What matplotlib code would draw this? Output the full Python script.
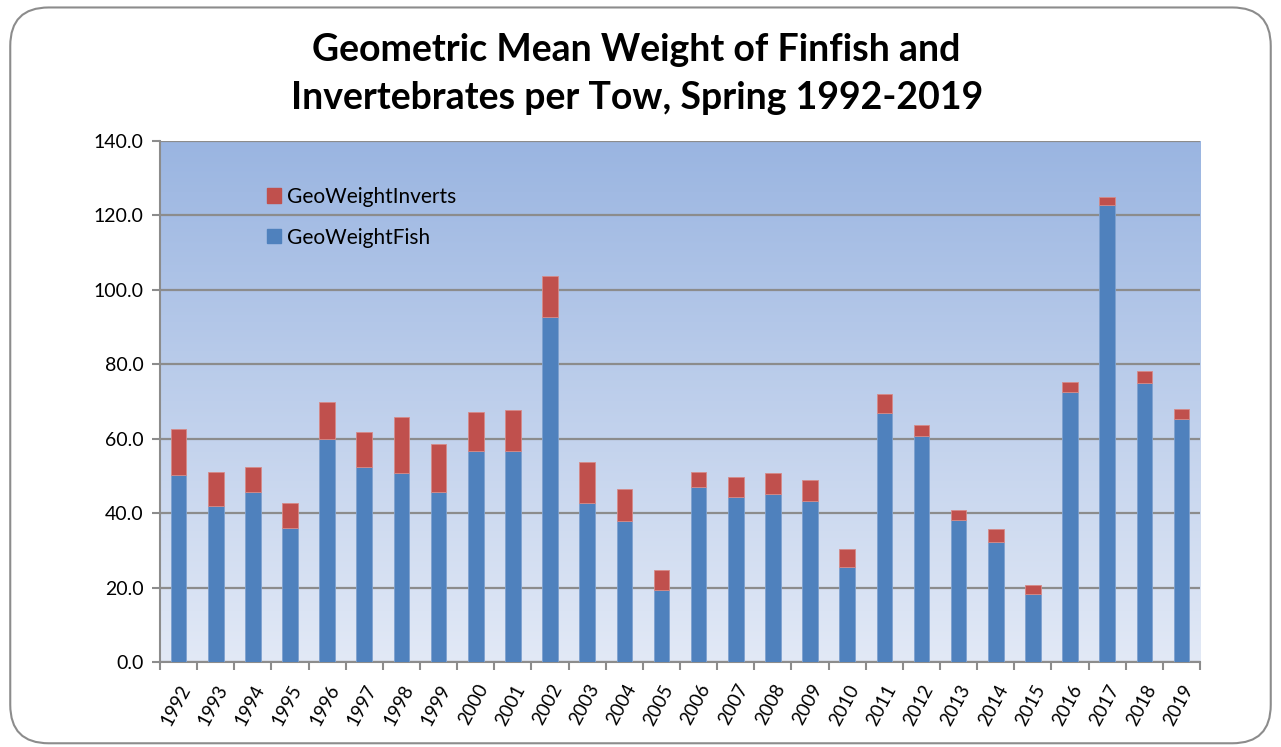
import numpy as np
import matplotlib
matplotlib.use('Agg')
import matplotlib.pyplot as plt
from matplotlib.patches import FancyBboxPatch, Patch

years = [str(y) for y in range(1992, 2020)]
geo_fish = [50.2, 41.9, 45.6, 36.0, 59.9, 52.5, 50.8, 45.6, 56.7, 56.7,
            92.7, 42.8, 37.9, 19.3, 47.0, 44.3, 45.1, 43.3, 25.6, 67.0,
            60.6, 38.2, 32.2, 18.4, 72.6, 122.8, 74.9, 65.3]
geo_total = [62.6, 51.1, 52.5, 42.8, 70.0, 61.7, 65.9, 58.6, 67.3, 67.7,
             103.7, 53.8, 46.5, 24.8, 51.1, 49.8, 50.7, 48.9, 30.3, 72.1,
             63.8, 40.9, 35.8, 20.6, 75.3, 125.0, 78.1, 68.0]
geo_inverts = [t - f for t, f in zip(geo_total, geo_fish)]

plt.rcParams['font.family'] = ['Lato', 'DejaVu Sans']

fig = plt.figure(figsize=(12.81, 7.47), dpi=100)

# rounded chart border, kept behind the axes
border = FancyBboxPatch((0.008, 0.005), 0.984, 0.985,
                        boxstyle='round,pad=0,rounding_size=0.03',
                        transform=fig.transFigure, facecolor='white',
                        edgecolor='#8c8c8c', linewidth=1.5,
                        mutation_aspect=1281 / 747, zorder=-5)
fig.patches.append(border)

ax = fig.add_axes([0.1249, 0.1138, 0.8119, 0.6974])
ax.set_facecolor('none')

# gradient background of the plot area
grad = np.linspace(0, 1, 256).reshape(-1, 1)
top = np.array([0x9a, 0xb5, 0xe1]) / 255
bot = np.array([0xe2, 0xe9, 0xf6]) / 255
img = top + (bot - top) * grad[..., None]
ax.imshow(img, extent=(-0.5, 27.5, 0, 140), aspect='auto',
          origin='upper', zorder=0)

x = np.arange(len(years))
ax.bar(x, geo_fish, width=0.42, color='#4f81bd', edgecolor='#7ea1cf',
       linewidth=0.6, zorder=3, label='GeoWeightFish')
ax.bar(x, geo_inverts, bottom=geo_fish, width=0.42, color='#c0504d',
       edgecolor='#d68a88', linewidth=0.6, zorder=3, label='GeoWeightInverts')

ax.set_xlim(-0.5, 27.5)
ax.set_ylim(0, 140)
ax.set_yticks(np.arange(0, 141, 20))
ax.set_yticklabels([f'{v:.1f}' for v in np.arange(0, 141, 20)], fontsize=14)
ax.yaxis.grid(True, color='#8c8c8c', linewidth=1.6, zorder=1)
ax.set_axisbelow(True)

ax.set_xticks(x)
ax.set_xticklabels(years, rotation=62, ha='right', rotation_mode='anchor',
                   fontsize=13.5)
ax.set_xticks(np.arange(-0.5, 28, 1), minor=True)
ax.tick_params(axis='x', which='major', length=0, pad=14)
ax.tick_params(axis='x', which='minor', length=6, color='#8c8c8c', width=1.5)
ax.tick_params(axis='y', length=6, color='#8c8c8c', width=1.5, pad=6)

for s in ['top', 'right']:
    ax.spines[s].set_visible(False)
for s in ['left', 'bottom']:
    ax.spines[s].set_color('#8c8c8c')
    ax.spines[s].set_linewidth(1.5)

handles = [Patch(color='#c0504d', label='GeoWeightInverts'),
           Patch(color='#4f81bd', label='GeoWeightFish')]
ax.legend(handles=handles, loc='upper left', bbox_to_anchor=(0.103, 0.912),
          frameon=False, fontsize=15, handlelength=0.67, handleheight=0.67,
          labelspacing=1.0, handletextpad=0.3, borderpad=0,
          borderaxespad=0)

fig.text(0.497, 1 - 50 / 747, 'Geometric Mean Weight of Finfish and',
         ha='center', va='center', fontsize=27, fontweight='bold')
fig.text(0.497, 1 - 98 / 747, 'Invertebrates per Tow, Spring 1992-2019',
         ha='center', va='center', fontsize=27, fontweight='bold')

fig.savefig('out.png', dpi=100)
